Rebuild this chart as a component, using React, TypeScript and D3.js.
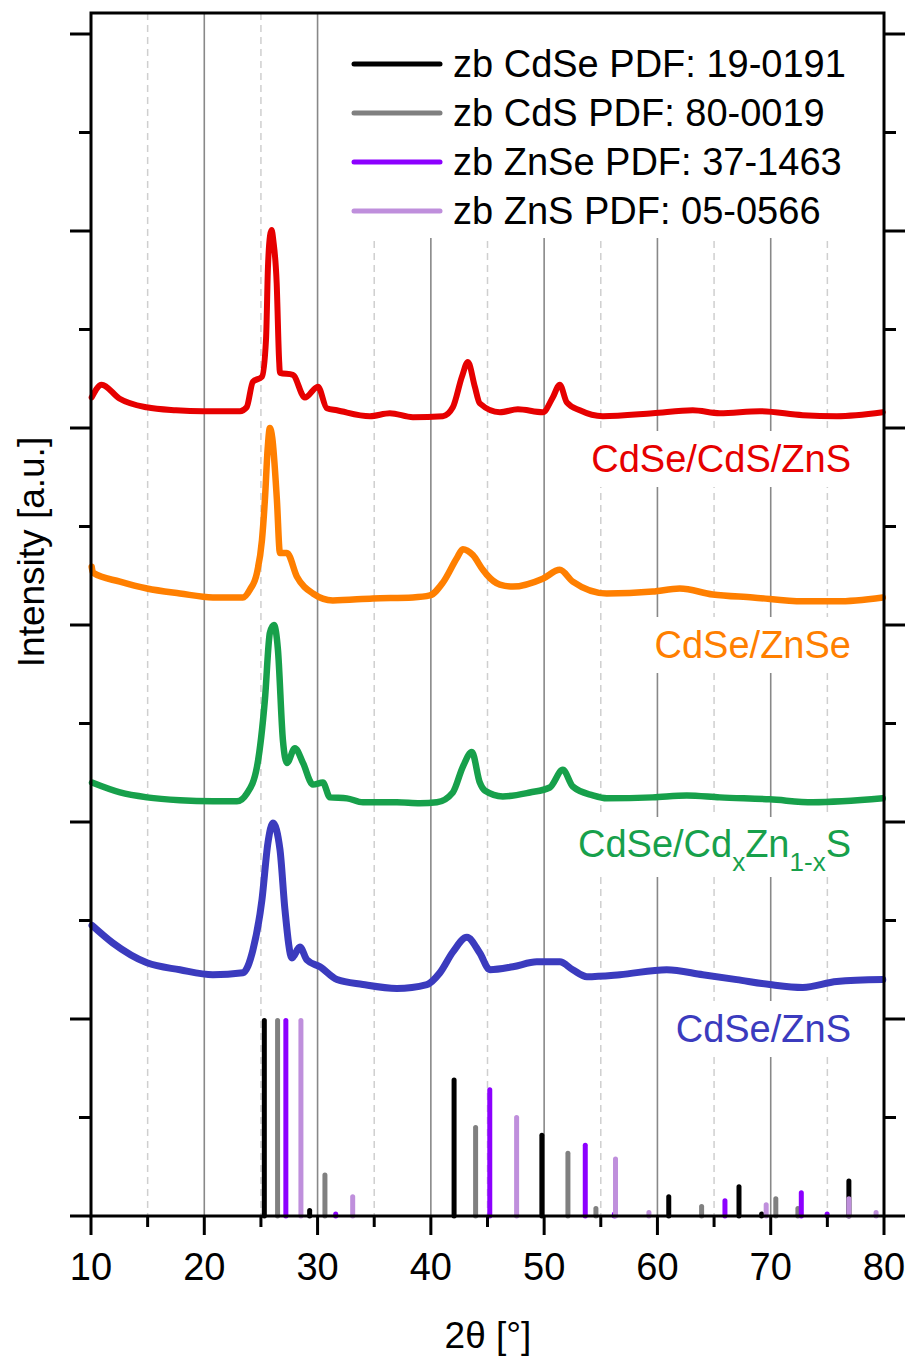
import React from "react";
import * as d3 from "d3";

// ---------- data (2θ in degrees, intensity in a.u. incl. stacking offset) ----------
const RED_CdSe_CdS_ZnS: [number, number][] = [
  [10.06, 8.31], [10.94, 8.44], [12.5, 8.3], [14.91, 8.21], [17.5, 8.18], [19.88, 8.17], [23.15, 8.17], [23.74, 8.21],
  [24.29, 8.47], [25.09, 8.52], [25.45, 8.9], [25.62, 9.63], [25.8, 9.95], [25.94, 10.01], [26.1, 9.9],
  [26.39, 9.47], [26.6, 8.7], [26.68, 8.56], [27.82, 8.54], [28.88, 8.31], [30.03, 8.42], [30.82, 8.2],
  [31.71, 8.18], [34.62, 8.12], [36.38, 8.15], [38.41, 8.11], [41.06, 8.12], [41.94, 8.21], [42.74, 8.52],
  [43.27, 8.67], [43.88, 8.42], [44.32, 8.25], [46.09, 8.16], [47.68, 8.19], [49.88, 8.16], [50.76, 8.31],
  [51.38, 8.44], [52.0, 8.26], [53.15, 8.18], [55.18, 8.12], [59.59, 8.15], [63.12, 8.18], [65.5, 8.15],
  [69.03, 8.17], [72.83, 8.13], [75.83, 8.12], [79.89, 8.16],
];
const ORANGE_CdSe_ZnSe: [number, number][] = [
  [10.06, 6.59], [10.18, 6.53], [12.56, 6.44], [14.94, 6.37], [17.85, 6.32], [20.76, 6.28], [23.41, 6.28],
  [24.03, 6.36], [24.65, 6.53], [25.09, 6.86], [25.35, 7.27], [25.6, 7.8], [25.79, 8.0], [26.0, 7.9],
  [26.41, 7.27], [26.68, 6.73], [27.3, 6.73], [28.18, 6.49], [29.59, 6.32], [31.35, 6.25], [34.88, 6.27],
  [38.41, 6.28], [39.91, 6.3], [41.06, 6.43], [42.3, 6.68], [42.82, 6.77], [43.71, 6.71], [44.59, 6.56],
  [44.94, 6.51], [46.09, 6.41], [47.24, 6.39], [49.88, 6.47], [51.38, 6.56], [52.53, 6.44], [55.53, 6.32],
  [59.59, 6.34], [61.97, 6.37], [64.88, 6.31], [68.41, 6.28], [72.83, 6.24], [75.83, 6.24], [79.89, 6.28],
];
const GREEN_CdSe_CdZnS: [number, number][] = [
  [10.09, 4.4], [12.56, 4.3], [14.94, 4.25], [17.85, 4.22], [20.76, 4.21], [22.88, 4.21], [23.76, 4.29],
  [24.65, 4.56], [25.35, 5.24], [25.79, 5.92], [26.15, 6.0], [26.5, 5.75], [26.94, 4.83], [27.3, 4.6],
  [28.0, 4.75], [28.71, 4.6], [29.59, 4.38], [30.47, 4.4], [31.09, 4.25], [32.59, 4.24], [34.0, 4.2],
  [37.0, 4.2], [39.03, 4.19], [40.53, 4.2], [41.94, 4.3], [42.82, 4.56], [43.62, 4.71], [44.32, 4.4],
  [44.76, 4.32], [46.35, 4.26], [48.74, 4.3], [50.5, 4.35], [51.65, 4.53], [52.53, 4.36], [54.3, 4.27],
  [55.53, 4.24], [59.59, 4.25], [62.59, 4.27], [65.5, 4.25], [69.91, 4.23], [73.71, 4.2], [79.89, 4.24],
];
const BLUE_CdSe_ZnS: [number, number][] = [
  [10.09, 2.95], [11.94, 2.77], [14.94, 2.57], [17.85, 2.5], [20.76, 2.45], [23.41, 2.47], [24.29, 2.7],
  [25.09, 3.21], [25.62, 3.79], [26.06, 3.99], [26.68, 3.72], [27.12, 3.11], [27.74, 2.62], [28.44, 2.73],
  [29.06, 2.6], [30.21, 2.53], [31.71, 2.4], [34.0, 2.35], [37.0, 2.31], [39.65, 2.35], [40.8, 2.47],
  [41.94, 2.68], [43.18, 2.83], [44.32, 2.67], [45.21, 2.5], [47.24, 2.53], [49.35, 2.58], [51.38, 2.58],
  [52.53, 2.5], [53.77, 2.43], [56.68, 2.45], [60.82, 2.5], [64.0, 2.45], [67.0, 2.4], [69.91, 2.35],
  [72.83, 2.32], [75.83, 2.38], [79.89, 2.4],
];

// reference patterns: [2θ, relative intensity %]
const PDF_CdSe_19_0191: [number, number][] = [[25.3, 100], [29.3, 4], [42.05, 70], [49.8, 42], [61.0, 11], [67.2, 16], [69.2, 2], [76.9, 19]];
const PDF_CdS_80_0019: [number, number][] = [[26.47, 100], [30.65, 22], [43.95, 46], [52.1, 33], [54.57, 5], [63.9, 6], [70.45, 10], [72.4, 5]];
const PDF_ZnSe_37_1463: [number, number][] = [[27.2, 100], [31.6, 2], [45.2, 65], [53.63, 37], [56.2, 2], [65.96, 9], [72.7, 13], [74.98, 2]];
const PDF_ZnS_05_0566: [number, number][] = [[28.53, 100], [33.1, 11], [47.57, 51], [56.3, 30], [59.25, 3], [69.6, 7], [76.9, 10], [79.3, 3]];

const LEGEND_LABELS = ["zb CdSe PDF: 19-0191", "zb CdS PDF: 80-0019", "zb ZnSe PDF: 37-1463", "zb ZnS PDF: 05-0566"];
const X_MAJOR_TICKS = [10, 20, 30, 40, 50, 60, 70, 80];
const X_MINOR_TICKS = [15, 25, 35, 45, 55, 65, 75];
const Y_MAJOR_TICKS = [0, 2, 4, 6, 8, 10, 12];
const Y_MINOR_TICKS = [1, 3, 5, 7, 9, 11];

const W = 909, H = 1361;
const L = 91, R = 884, T = 13, B = 1216;
const FONT = "'Liberation Sans', Arial, sans-serif";

export default function App() {
  const x = d3.scaleLinear().domain([10, 80]).range([L, R]);
  const y = d3.scaleLinear().domain([0, 12.2]).range([B, B - 12.2 * 98.5]);
  const barFull = 2.01; // intensity units for 100 %
  const line = d3.line<[number, number]>().x(d => x(d[0])).y(d => y(d[1])).curve(d3.curveMonotoneX);

  const curves = [
    { data: BLUE_CdSe_ZnS, color: "#3B3BBE", w: 7 },
    { data: GREEN_CdSe_CdZnS, color: "#17A04B", w: 6.5 },
    { data: ORANGE_CdSe_ZnSe, color: "#FF7F00", w: 6.5 },
    { data: RED_CdSe_CdS_ZnS, color: "#E60000", w: 6 },
  ];
  const refs = [
    { data: PDF_CdSe_19_0191, color: "#000000" },
    { data: PDF_CdS_80_0019, color: "#808080" },
    { data: PDF_ZnSe_37_1463, color: "#8C00FF" },
    { data: PDF_ZnS_05_0566, color: "#BF8FDC" },
  ];
  const labelBoxes = [
    { x0: 580, y0: 431, y1: 487 },
    { x0: 647, y0: 617, y1: 673 },
    { x0: 577, y0: 817, y1: 877 },
    { x0: 668, y0: 1001, y1: 1057 },
  ];

  return (
    <svg width={W} height={H} style={{ position: "absolute", left: 0, top: 0, background: "#fff" }} fontFamily={FONT}>
      <rect x={0} y={0} width={W} height={H} fill="#fff" />
      {/* grid */}
      {X_MINOR_TICKS.map(t => (
        <line key={"gm" + t} x1={x(t)} x2={x(t)} y1={T} y2={B} stroke="#CFCFCF" strokeWidth={1.5} strokeDasharray="7,5" />
      ))}
      {X_MAJOR_TICKS.filter(t => t > 10 && t < 80).map(t => (
        <line key={"gM" + t} x1={x(t)} x2={x(t)} y1={T} y2={B} stroke="#888" strokeWidth={1.6} />
      ))}
      {/* white backgrounds of legend and labels */}
      <rect x={345} y={T} width={R - 345} height={238 - T} fill="#fff" />
      {labelBoxes.map((b, i) => (
        <rect key={"lb" + i} x={b.x0} y={b.y0} width={855 - b.x0} height={b.y1 - b.y0} fill="#fff" />
      ))}
      {/* curves */}
      {curves.map((c, i) => (
        <path key={"c" + i} d={line(c.data) || ""} fill="none" stroke={c.color} strokeWidth={c.w} strokeLinejoin="round" strokeLinecap="round" />
      ))}
      {/* reference bars */}
      {refs.map((r, i) => (
        <g key={"r" + i}>
          {r.data.map((d, j) => (
            <line key={j} x1={x(d[0])} x2={x(d[0])} y1={y(0)} y2={Math.min(y(0) - 2, y((d[1] / 100) * barFull) + 2.5)}
              stroke={r.color} strokeWidth={5} strokeLinecap="round" />
          ))}
        </g>
      ))}
      {/* frame */}
      <rect x={L} y={T} width={R - L} height={B - T} fill="none" stroke="#000" strokeWidth={3} />
      {/* y ticks left and right */}
      {Y_MAJOR_TICKS.map(t => (
        <g key={"yM" + t}>
          <line x1={L - 21} x2={L} y1={y(t)} y2={y(t)} stroke="#000" strokeWidth={3} />
          <line x1={R} x2={R + 21} y1={y(t)} y2={y(t)} stroke="#000" strokeWidth={3} />
        </g>
      ))}
      {Y_MINOR_TICKS.map(t => (
        <g key={"ym" + t}>
          <line x1={L - 12} x2={L} y1={y(t)} y2={y(t)} stroke="#000" strokeWidth={3} />
          <line x1={R} x2={R + 12} y1={y(t)} y2={y(t)} stroke="#000" strokeWidth={3} />
        </g>
      ))}
      {/* x ticks */}
      {X_MAJOR_TICKS.map(t => (
        <g key={"xM" + t}>
          <line x1={x(t)} x2={x(t)} y1={B} y2={B + 19} stroke="#000" strokeWidth={3} />
          <text x={x(t)} y={1280} textAnchor="middle" fontSize={38} fill="#000">{t}</text>
        </g>
      ))}
      {X_MINOR_TICKS.map(t => (
        <line key={"xm" + t} x1={x(t)} x2={x(t)} y1={B} y2={B + 11} stroke="#000" strokeWidth={3} />
      ))}
      {/* axis titles */}
      <text x={488} y={1348} textAnchor="middle" fontSize={37} fill="#000">2θ [°]</text>
      <text transform="translate(44,552) rotate(-90)" textAnchor="middle" fontSize={37} fill="#000">Intensity [a.u.]</text>
      {/* legend */}
      {LEGEND_LABELS.map((lab, i) => {
        const ly = 64 + i * 49;
        return (
          <g key={"lg" + i}>
            <line x1={354} x2={440} y1={ly} y2={ly} stroke={refs[i].color} strokeWidth={5} strokeLinecap="round" />
            <text x={453} y={ly + 13} fontSize={38} fill="#000">{lab}</text>
          </g>
        );
      })}
      {/* sample labels */}
      <text x={851} y={472} textAnchor="end" fontSize={38} fill="#E60000">CdSe/CdS/ZnS</text>
      <text x={851} y={658} textAnchor="end" fontSize={38} fill="#FF7F00">CdSe/ZnSe</text>
      <text x={851} y={857} textAnchor="end" fontSize={38} fill="#17A04B">
        CdSe/Cd<tspan fontSize={26} dy={14}>x</tspan><tspan dy={-14}>Zn</tspan><tspan fontSize={26} dy={14}>1-x</tspan><tspan dy={-14}>S</tspan>
      </text>
      <text x={851} y={1042} textAnchor="end" fontSize={38} fill="#3B3BBE">CdSe/ZnS</text>
    </svg>
  );
}
